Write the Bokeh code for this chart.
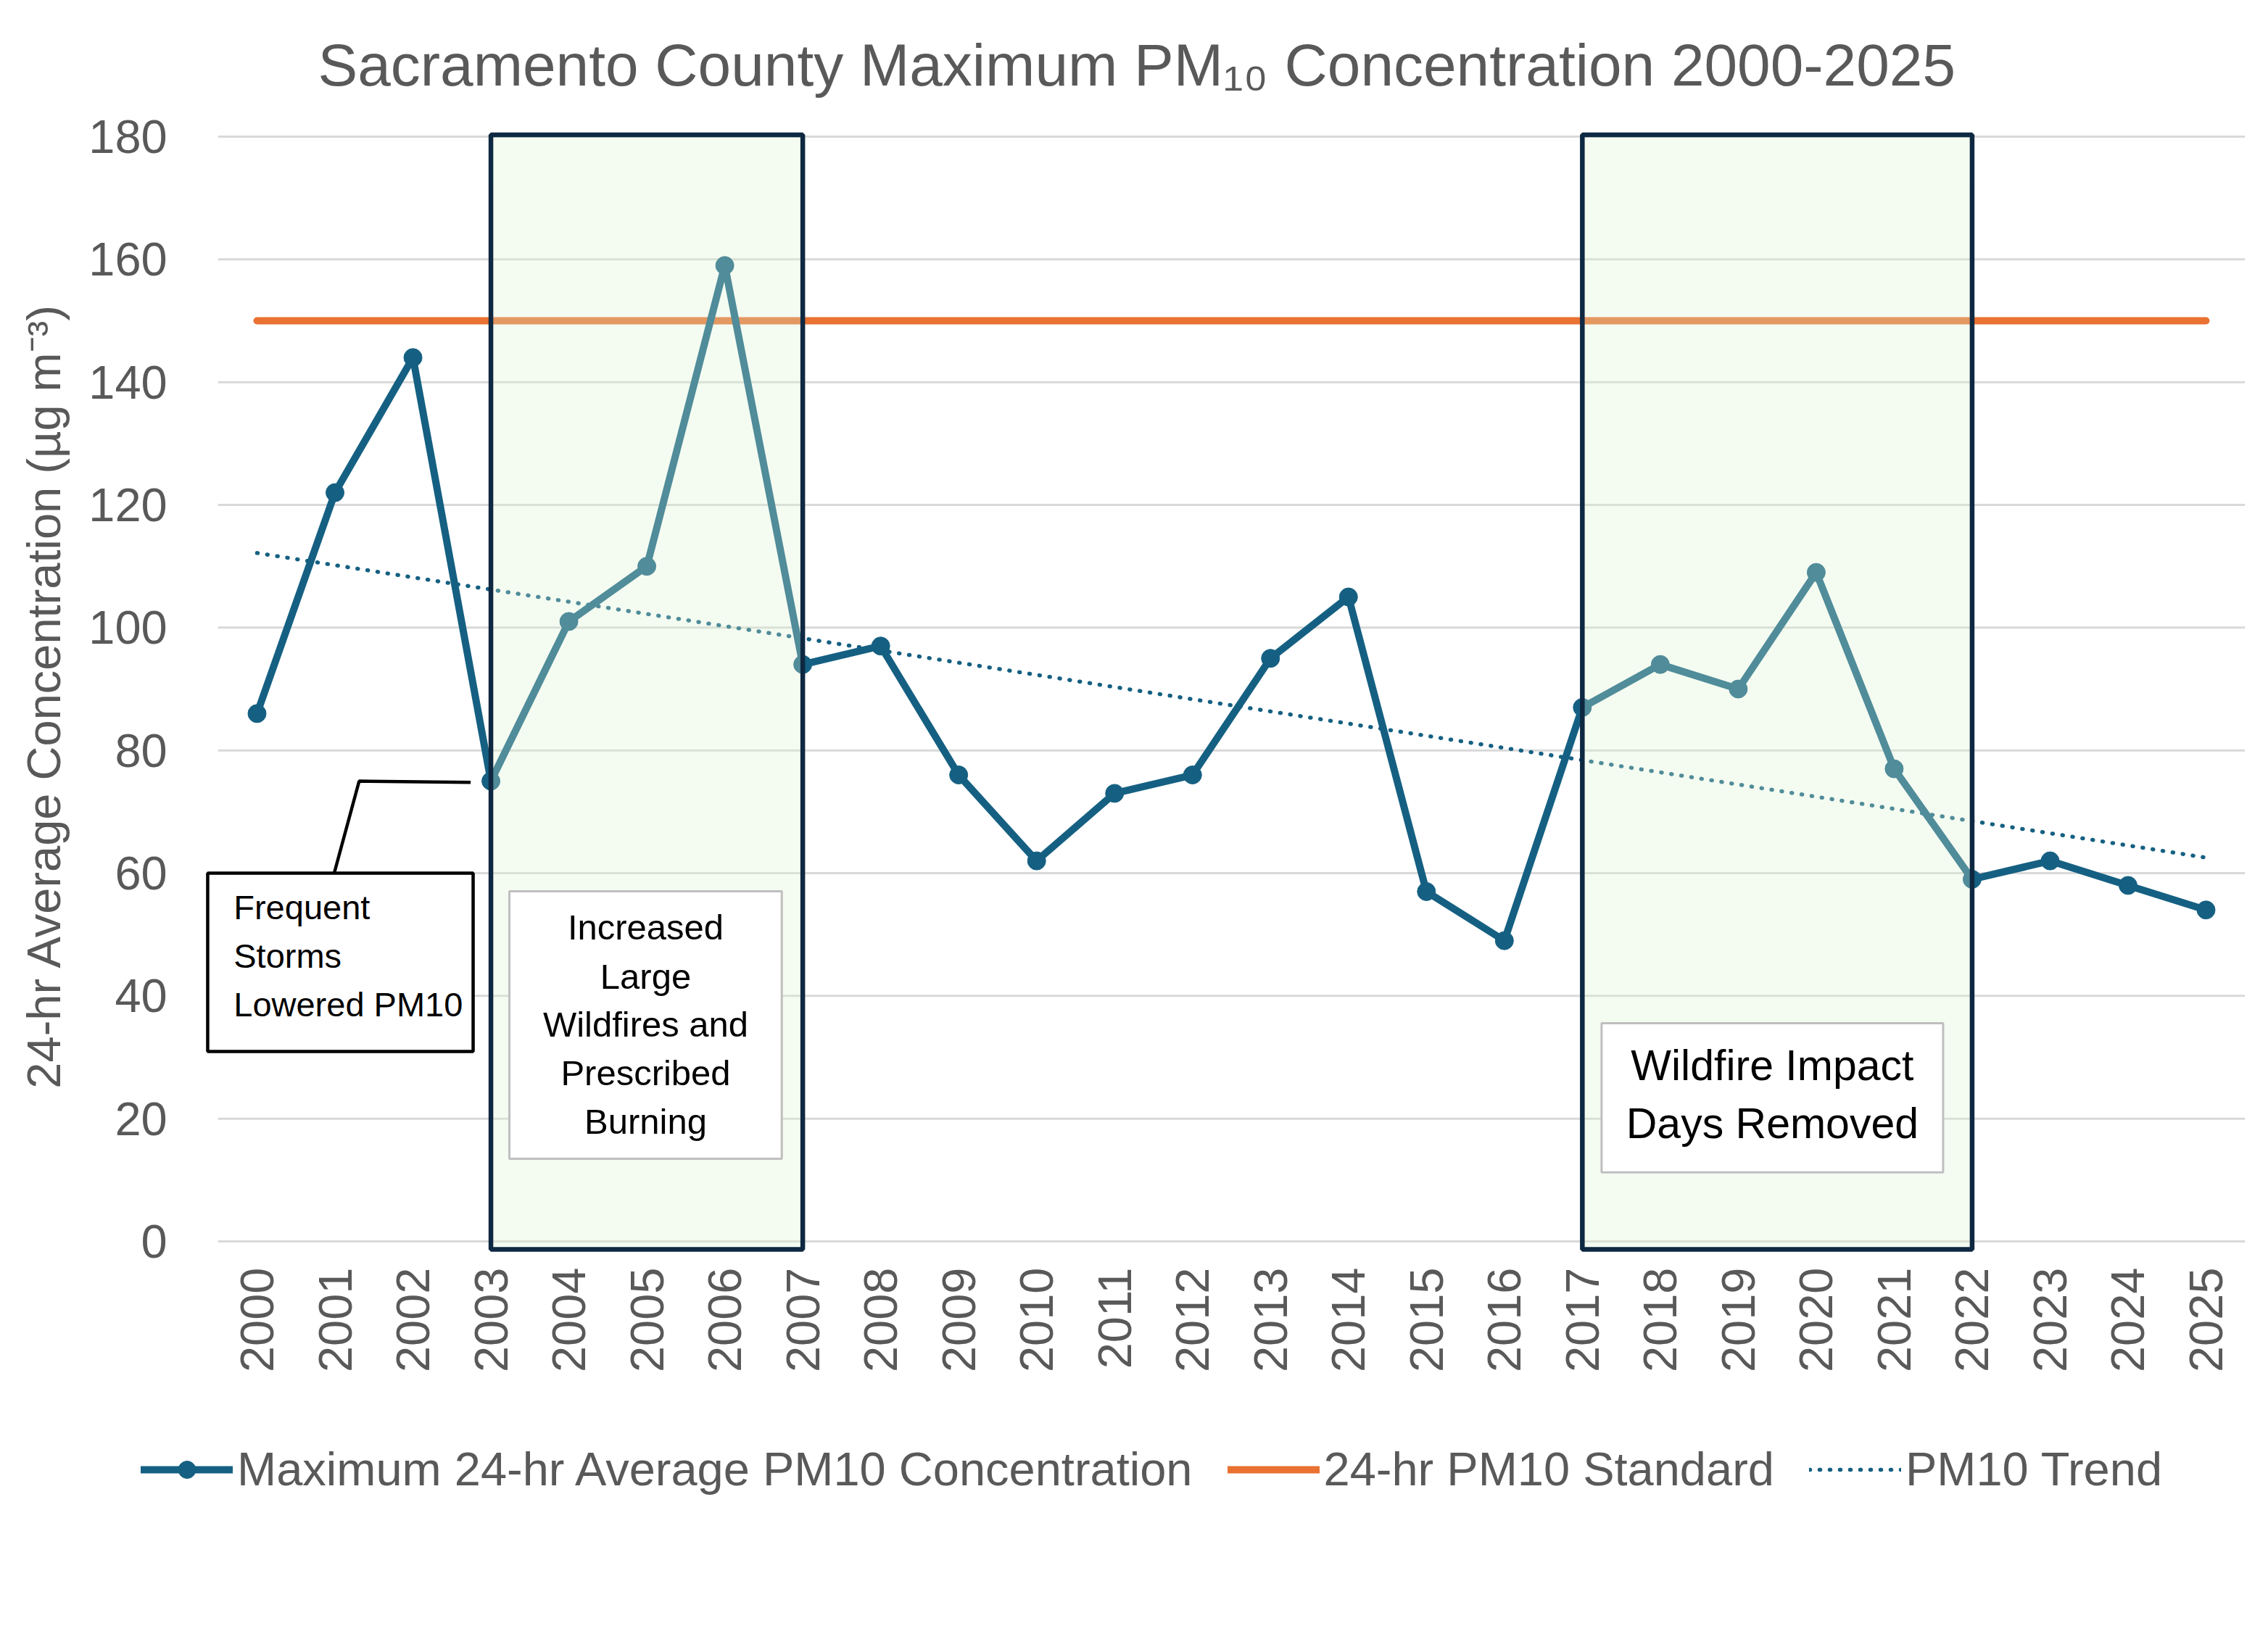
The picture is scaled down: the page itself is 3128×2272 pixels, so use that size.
import math
import numpy as np
from bokeh.plotting import figure
from bokeh.models import FixedTicker, Range1d, Legend, LegendItem, Label
from bokeh.core.properties import value
from bokeh.embed import file_html
from bokeh.resources import INLINE

# ---- data -------------------------------------------------------------
years = list(range(2000, 2026))
pm10_max = [86, 122, 144, 75, 101, 110, 159, 94, 97, 76, 62, 73, 76,
            95, 105, 57, 49, 87, 94, 90, 109, 77, 59, 62, 58, 54]
pm10_standard = 150
y_ticks = [0, 20, 40, 60, 80, 100, 120, 140, 160, 180]
year_labels = {y: str(y) for y in years}

# periods shaded on the chart (start year, end year)
highlight_periods = [(2003, 2007), (2017, 2022)]

# least-squares linear trend of the annual maxima
slope, intercept = np.polyfit(years, pm10_max, 1)
pm10_trend = [slope * y + intercept for y in years]

# ---- styling ----------------------------------------------------------
FONT = "Liberation Sans"
TEXT_GREY = "#595959"
BLUE = "#156082"
ORANGE = "#E97132"
NAVY = "#0E2841"
GRID = "#D9D9D9"

W, H = 3128, 2272
# plotting frame fills the page; the axes sit at fixed positions inside it
PX_PER_YEAR = 107.52
PX_PER_UNIT = 1524 / 180
X0_PX, Y0_PX = 354, 1712          # pixel position of (2000, 0)
x_range = Range1d(2000 - X0_PX / PX_PER_YEAR, 2000 + (W - X0_PX) / PX_PER_YEAR)
y_range = Range1d(-(H - Y0_PX) / PX_PER_UNIT, Y0_PX / PX_PER_UNIT)

p = figure(width=W, height=H, x_range=x_range, y_range=y_range,
           output_backend="svg", toolbar_location=None,
           min_border=0, min_border_left=0, min_border_right=0,
           min_border_top=0, min_border_bottom=0)
p.outline_line_color = None
p.background_fill_color = "white"
p.border_fill_color = "white"
p.xgrid.visible = False
p.ygrid.visible = False

# horizontal gridlines spanning the category band of the year axis
p.segment(x0=[years[0] - 0.5] * len(y_ticks), x1=[years[-1] + 0.5] * len(y_ticks),
          y0=y_ticks, y1=y_ticks, line_color=GRID, line_width=3)

# series
std_line = p.line(x=[years[0], years[-1]], y=[pm10_standard, pm10_standard],
                  line_color=ORANGE, line_width=10, line_cap="round")
trend_line = p.line(x=years, y=pm10_trend, line_color=BLUE, line_width=5.5,
                    line_dash="1 13", line_cap="round")
main_line = p.line(x=years, y=pm10_max, line_color=BLUE, line_width=10,
                   line_join="round", line_cap="round")
main_pts = p.scatter(x=years, y=pm10_max, size=25, marker="circle",
                     fill_color=BLUE, line_color=BLUE)

# translucent highlight bands over the series
p.quad(left=[a for a, b in highlight_periods], right=[b for a, b in highlight_periods],
       top=[180.3] * len(highlight_periods), bottom=[-1.3] * len(highlight_periods),
       fill_color="#D9F2D0", fill_alpha=0.3, line_color=NAVY, line_width=6.5)

# callout boxes
boxes = [
    dict(l=1999.367, r=2002.772, t=60.0, b=30.94, color="black", w=4.5),
    dict(l=2003.237, r=2006.731, t=57.04, b=13.46, color="#BFBFBF", w=3),
    dict(l=2017.247, r=2021.628, t=35.55, b=11.25, color="#BFBFBF", w=3),
]
for bx in boxes:
    p.quad(left=[bx["l"]], right=[bx["r"]], top=[bx["t"]], bottom=[bx["b"]],
           fill_color="white", line_color=bx["color"], line_width=bx["w"])

# leader from the 2003 low to the storms note
p.line(x=[2002.74, 2001.31, 2000.99], y=[74.8, 75.0, 60.0],
       line_color="black", line_width=4.5)

p.text(x=[1999.70] * 3, y=[54.4, 46.5, 38.6],
       text=["Frequent", "Storms", "Lowered PM10"],
       text_font=value(FONT), text_font_size="47px", text_color="black",
       text_align="left", text_baseline="alphabetic")
p.text(x=[2004.985] * 5, y=[51.2, 43.2, 35.4, 27.5, 19.5],
       text=["Increased", "Large", "Wildfires and", "Prescribed", "Burning"],
       text_font=value(FONT), text_font_size="49px", text_color="black",
       text_align="center", text_baseline="alphabetic")
p.text(x=[2019.437] * 2, y=[28.7, 19.2],
       text=["Wildfire Impact", "Days Removed"],
       text_font=value(FONT), text_font_size="59px", text_color="black",
       text_align="center", text_baseline="alphabetic")

# title
p.add_layout(Label(x=2011.284, y=191.7,
                   text="Sacramento County Maximum PM\u2081\u2080 Concentration 2000-2025",
                   text_font=FONT, text_font_size="82px", text_color=TEXT_GREY,
                   text_align="center", text_baseline="alphabetic"))

# axes, pinned at the origin of the value / year scales
xa = p.xaxis[0]
xa.fixed_location = 0
xa.bounds = (years[0] - 0.5, years[-1] + 0.5)
xa.ticker = FixedTicker(ticks=years, minor_ticks=[])
xa.major_label_overrides = year_labels
xa.major_label_orientation = math.pi / 2
xa.major_label_text_font = FONT
xa.major_label_text_font_size = "65px"
xa.major_label_text_color = TEXT_GREY
xa.major_label_standoff = 36
xa.major_tick_out = 0
xa.major_tick_in = 0
xa.axis_line_color = None
xa.major_tick_line_color = None
xa.minor_tick_line_color = None

ya = p.yaxis[0]
ya.fixed_location = years[0] - 0.5
ya.bounds = (y_ticks[0], y_ticks[-1])
ya.ticker = FixedTicker(ticks=y_ticks, minor_ticks=[])
ya.major_label_text_font = FONT
ya.major_label_text_font_size = "65px"
ya.major_label_text_color = TEXT_GREY
ya.major_label_standoff = 70
ya.major_tick_out = 0
ya.major_tick_in = 0
ya.axis_line_color = None
ya.major_tick_line_color = None
ya.minor_tick_line_color = None
ya.axis_label = "24-hr Average  Concentration (\u00b5g m\u207b\u00b3)"
ya.axis_label_text_font = FONT
ya.axis_label_text_font_size = "65px"
ya.axis_label_text_font_style = "normal"
ya.axis_label_text_color = TEXT_GREY
ya.axis_label_standoff = 22

legend = Legend(items=[
    LegendItem(label="Maximum 24-hr Average PM10 Concentration", renderers=[main_line, main_pts]),
    LegendItem(label="24-hr PM10 Standard", renderers=[std_line]),
    LegendItem(label="PM10 Trend", renderers=[trend_line]),
], orientation="horizontal", location=(194, 208), padding=0, margin=0,
    spacing=48, glyph_width=127, glyph_height=60, label_height=60,
    label_standoff=6, label_text_font=FONT, label_text_font_size="65px",
    label_text_color=TEXT_GREY, border_line_color=None, background_fill_alpha=0)
p.add_layout(legend, "center")

open("out.html", "w").write(file_html(p, INLINE))
